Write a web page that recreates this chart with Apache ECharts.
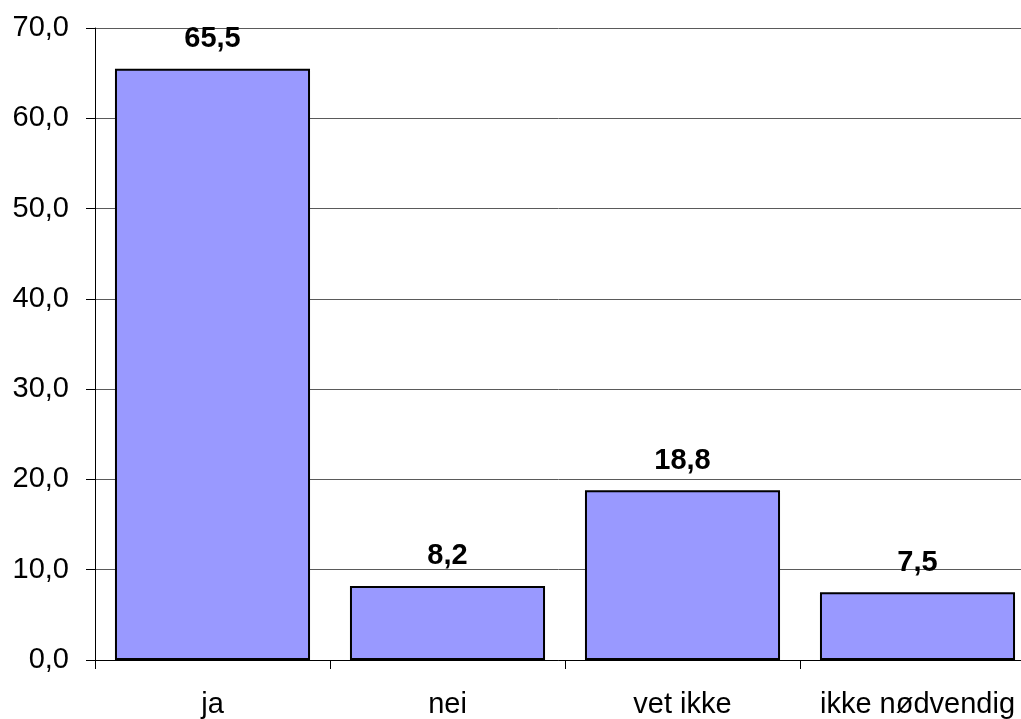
<!DOCTYPE html>
<html>
<head>
<meta charset="utf-8">
<script src="https://cdn.jsdelivr.net/npm/echarts@6/dist/echarts.min.js"></script>
<style>
  html, body { margin: 0; padding: 0; background: #fff; }
  #chart { width: 1021px; height: 719px; }
</style>
</head>
<body>
<div id="chart"></div>
<script>
const categories = ['ja', 'nei', 'vet ikke', 'ikke nødvendig']
const values = [65.5, 8.2, 18.8, 7.5]

// norsk desimalkomma
const fmt = (v) => Number(v).toFixed(1).replace('.', ',')

const chart = echarts.init(document.getElementById('chart'))
chart.setOption({
  animation: false,
  textStyle: { fontFamily: 'Liberation Sans, Arial, sans-serif' },
  grid: {
    left: 95,
    top: 28,
    width: 940,
    height: 632,
    outerBoundsMode: 'none',
  },
  xAxis: {
    type: 'category',
    data: categories,
    axisLine: { lineStyle: { color: '#000', width: 1 } },
    axisTick: { show: true, interval: 0, length: 9, lineStyle: { color: '#000' } },
    axisLabel: { interval: 0, fontSize: 29, color: '#000', margin: 30 },
    splitLine: { show: false },
  },
  yAxis: {
    type: 'value',
    min: 0,
    max: 70,
    interval: 10,
    axisLine: { show: true, lineStyle: { color: '#000', width: 1 } },
    axisTick: { show: true, length: 9, lineStyle: { color: '#000' } },
    axisLabel: { fontSize: 29, color: '#000', margin: 26, formatter: fmt },
    splitLine: { show: true, lineStyle: { color: '#5a5a5a', width: 1 } },
  },
  series: [
    {
      type: 'bar',
      data: values,
      barCategoryGap: '17%',
      itemStyle: {
        color: '#9999ff',
        borderColor: '#000',
        borderWidth: 2,
      },
      label: {
        show: true,
        position: 'top',
        distance: 15,
        fontSize: 29,
        fontWeight: 'bold',
        color: '#000',
        formatter: (p) => fmt(p.value),
      },
    },
  ],
})
</script>
</body>
</html>
